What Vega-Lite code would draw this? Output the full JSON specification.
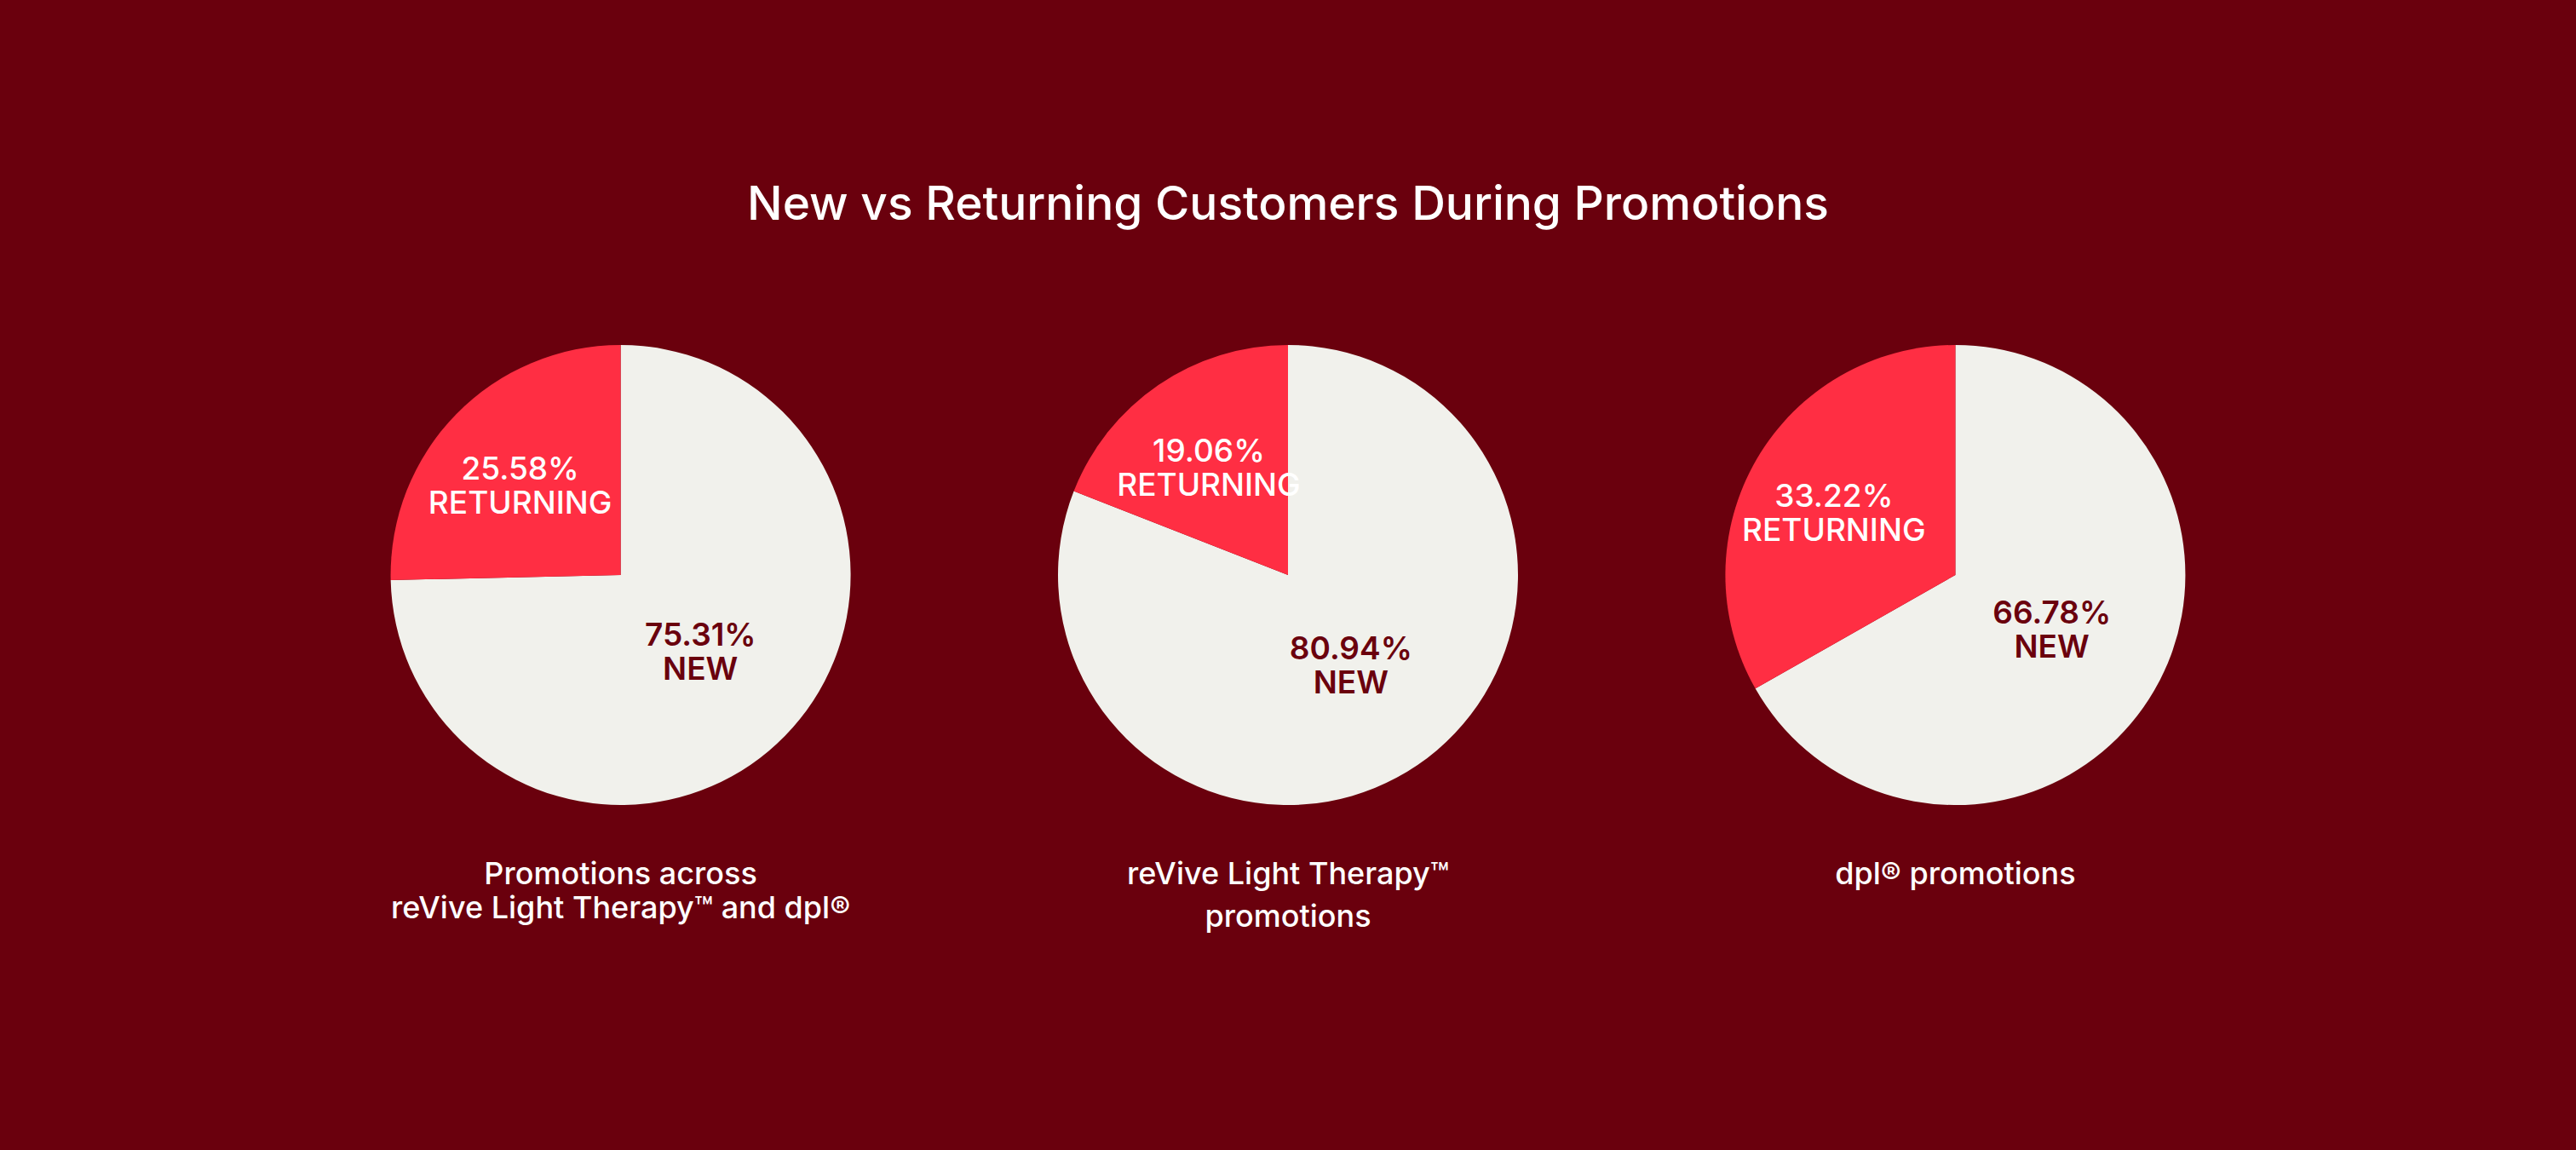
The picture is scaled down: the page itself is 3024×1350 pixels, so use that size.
{
  "$schema": "https://vega.github.io/schema/vega-lite/v6.json",
  "width": 3024,
  "height": 1350,
  "autosize": {"type": "fit", "contains": "padding"},
  "padding": 0,
  "background": "#6A000D",
  "config": {"view": {"stroke": null}, "font": "Inter"},
  "datasets": {
    "shares": [
      {"chart": "all", "type": "New", "value": 75.31, "order": 1},
      {"chart": "all", "type": "Returning", "value": 25.58, "order": 2},
      {"chart": "revive", "type": "New", "value": 80.94, "order": 1},
      {"chart": "revive", "type": "Returning", "value": 19.06, "order": 2},
      {"chart": "dpl", "type": "New", "value": 66.78, "order": 1},
      {"chart": "dpl", "type": "Returning", "value": 33.22, "order": 2}
    ],
    "captions": [
      {"chart": "all", "caption": "Promotions across\nreVive Light Therapy™ and dpl®"},
      {"chart": "revive", "caption": "reVive Light Therapy™\npromotions"},
      {"chart": "dpl", "caption": "dpl® promotions"}
    ],
    "heading": [{"text": "New vs Returning Customers During Promotions"}]
  },
  "layer": [
    {
      "data": {"name": "shares"},
      "transform": [
        {"stack": "value", "groupby": ["chart"], "sort": [{"field": "order", "order": "ascending"}], "offset": "normalize", "as": ["v0", "v1"]}
      ],
      "mark": {"type": "arc", "radius": 270},
      "encoding": {
        "x": {"field": "chart", "type": "nominal", "scale": {"type": "point", "padding": 0.93, "domain": ["all", "revive", "dpl"]}, "axis": null},
        "theta": {"field": "v0", "type": "quantitative", "scale": {"domain": [0, 1]}, "stack": null},
        "theta2": {"field": "v1"},
        "color": {"field": "type", "type": "nominal", "scale": {"domain": ["New", "Returning"], "range": ["#F1F1EC", "#FF2E43"]}, "legend": null}
      }
    },
    {
      "data": {"name": "shares"},
      "transform": [
        {"stack": "value", "groupby": ["chart"], "sort": [{"field": "order", "order": "ascending"}], "offset": "normalize", "as": ["v0", "v1"]},
        {"filter": "datum.type === 'Returning'"},
        {"calculate": "(datum.v0 + datum.v1) / 2", "as": "mid"},
        {"calculate": "format(datum.value, '.2f') + '%\\n' + upper(datum.type)", "as": "label"}
      ],
      "mark": {"type": "text", "fontSize": 37, "fontWeight": 500, "lineHeight": 40, "lineBreak": "\n", "align": "center", "baseline": "middle", "radius": 165, "dy": -8, "color": "#FFFFFF"},
      "encoding": {
        "x": {"field": "chart", "type": "nominal"},
        "theta": {"field": "mid", "type": "quantitative", "scale": {"domain": [0, 1]}, "stack": null},
        "text": {"field": "label"}
      }
    },
    {
      "data": {"name": "shares"},
      "transform": [
        {"stack": "value", "groupby": ["chart"], "sort": [{"field": "order", "order": "ascending"}], "offset": "normalize", "as": ["v0", "v1"]},
        {"filter": "datum.type === 'New'"},
        {"calculate": "(datum.v0 + datum.v1) / 2", "as": "mid"},
        {"calculate": "format(datum.value, '.2f') + '%\\n' + upper(datum.type)", "as": "label"}
      ],
      "mark": {"type": "text", "fontSize": 37, "fontWeight": 600, "lineHeight": 40, "lineBreak": "\n", "align": "center", "baseline": "middle", "radius": 131, "dy": -20, "color": "#6A000D"},
      "encoding": {
        "x": {"field": "chart", "type": "nominal"},
        "theta": {"field": "mid", "type": "quantitative", "scale": {"domain": [0, 1]}, "stack": null},
        "text": {"field": "label"}
      }
    },
    {
      "data": {"name": "captions"},
      "mark": {"type": "text", "fontSize": 36, "fontWeight": 500, "color": "#FFFFFF", "align": "center", "baseline": "alphabetic", "dy": 363, "lineBreak": "\n", "lineHeight": {"expr": "datum.chart === 'revive' ? 50 : 40"}},
      "encoding": {
        "x": {"field": "chart", "type": "nominal"},
        "text": {"field": "caption"}
      }
    },
    {
      "data": {"name": "heading"},
      "mark": {"type": "text", "fontSize": 55, "fontWeight": 500, "color": "#FFFFFF", "align": "center", "baseline": "alphabetic", "dy": -417},
      "encoding": {
        "text": {"field": "text"}
      }
    }
  ]
}
